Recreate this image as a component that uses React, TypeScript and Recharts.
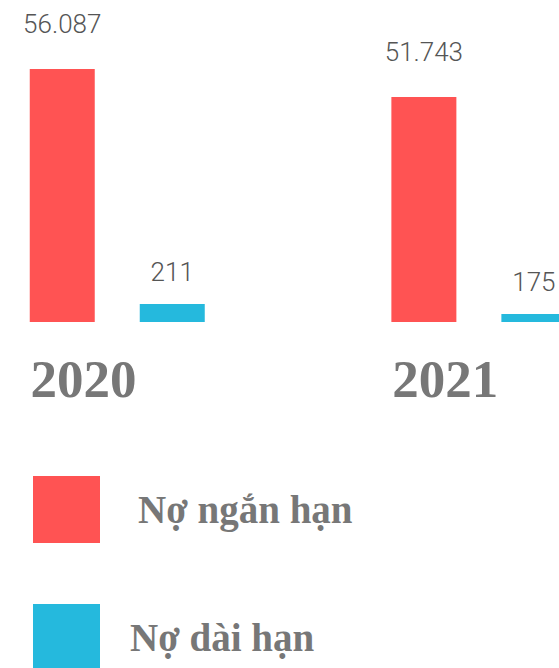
import { Bar, BarChart, LabelList, Legend, XAxis, YAxis } from "recharts";

const years = ["2020", "2021"];
const shortTermDebt = [56087, 51743];
const longTermDebt = [211, 175];

const seriesNames = { short: "Nợ ngắn hạn", long: "Nợ dài hạn" };
const colors = { short: "#FF5353", long: "#25B9DD" };
const legendOrder = [seriesNames.short, seriesNames.long];

// the two series sit on their own hidden axes (neither starts at zero in the source)
const shortDomain = [16836, 65241];
const longDomain = [146, 1269];

const data = years.map((year, i) => ({
  year,
  short: shortTermDebt[i],
  long: longTermDebt[i]
}));

const formatVi = (v: number) => String(v).replace(/\B(?=(\d{3})+(?!\d))/g, ".");

const labelStyle = {
  fontFamily: "Roboto, 'Noto Sans', sans-serif",
  fontWeight: 300,
  fontSize: 26,
  fill: "#555"
};

function LegendBox({ payload }: any) {
  const items = [...(payload || [])].sort(
    (a: any, b: any) => legendOrder.indexOf(a.value) - legendOrder.indexOf(b.value)
  );
  return (
    <div>
      {items.map((item: any, i: number) => (
        <div
          key={item.value}
          style={{ display: "flex", alignItems: "center", height: 67, marginBottom: i === 0 ? 61 : 0 }}
        >
          <div style={{ width: 67, height: 67, background: item.color }} />
          <span
            style={{
              marginLeft: i === 0 ? 38 : 30,
              fontFamily: "'Liberation Serif', serif",
              fontWeight: "bold",
              fontSize: 39,
              color: "#777"
            }}
          >
            {item.value}
          </span>
        </div>
      ))}
    </div>
  );
}

export default function App() {
  return (
    <div style={{ position: "absolute", left: 0, top: 0, width: 559, height: 668, overflow: "hidden", background: "#fff" }}>
      <div style={{ position: "relative", left: -100 }}>
        <BarChart
          width={760}
          height={668}
          data={data}
          margin={{ top: 10, right: 0, left: 36.75, bottom: 266 }}
          barGap={45}
          barSize={65}
        >
          <XAxis
            dataKey="year"
            axisLine={false}
            tickLine={false}
            tickSize={0}
            tickMargin={37}
            height={80}
            tick={{
              fontFamily: "'Liberation Serif', serif",
              fontWeight: "bold",
              fontSize: 53,
              fill: "#777",
              dx: -34
            }}
          />
          <YAxis yAxisId="short" hide domain={shortDomain} allowDataOverflow />
          <YAxis yAxisId="long" hide orientation="right" domain={longDomain} allowDataOverflow />
          <Legend
            layout="vertical"
            align="center"
            verticalAlign="middle"
            wrapperStyle={{ left: 133, top: 476, width: 400 }}
            content={<LegendBox />}
          />
          <Bar yAxisId="short" dataKey="short" name={seriesNames.short} fill={colors.short} isAnimationActive={false}>
            <LabelList dataKey="short" position="top" offset={36} formatter={formatVi} style={labelStyle} />
          </Bar>
          <Bar yAxisId="long" dataKey="long" name={seriesNames.long} fill={colors.long} isAnimationActive={false}>
            <LabelList dataKey="long" position="top" offset={23} formatter={formatVi} style={labelStyle} />
          </Bar>
        </BarChart>
      </div>
    </div>
  );
}
